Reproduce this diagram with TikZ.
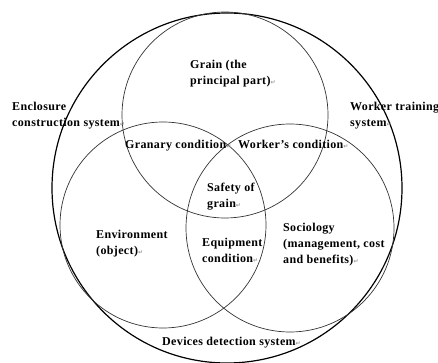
\documentclass[tikz,border=0pt]{standalone}
\usepackage{fontspec}
\setmainfont[LetterSpace=3]{Liberation Serif}
\newfontfamily\dejavu{DejaVu Sans}
\newcommand{\pmark}{{\color{black!40}\dejavu\fontsize{6}{6}\selectfont ↵}}
\tikzset{
  ring/.style={draw=black!80, line width=0.7pt},
  outerring/.style={draw=black, line width=1.2pt},
  lbl/.style={anchor=north west, inner sep=0pt, align=left,
    font=\bfseries\fontsize{12}{16}\selectfont}
}

\begin{document}
\begin{tikzpicture}[x=1pt,y=-1pt]
            \useasboundingbox (0,0) rectangle (438,363);
            % whole system
            \draw[outerring] (227,188) circle (175pt);
            % the three parts
            \draw[ring] (225,115) circle (103pt);
            \draw[ring] (163,225) circle (103pt);
            \draw[ring] (290,228) circle (104pt);
            % labels
            \node[lbl] (grain) at (190,59.5) {Grain (the\\principal part)\pmark};
            \node[lbl] (enclosure) at (12,101.5) {Enclosure\\construction system\pmark};
            \node[lbl] (training) at (350,101.5) {Worker training\\system\pmark};
            \node[lbl] (granary) at (125,139.5) {Granary condition\pmark};
            \node[lbl] (workercond) at (238,139.5) {Worker’s condition\pmark};
            \node[lbl] (safety) at (207,182.5) {Safety of\\grain\pmark};
            \node[lbl] (environment) at (96,229.5) {Environment\\(object)\pmark};
            \node[lbl] (equipment) at (202,237.5) {Equipment\\condition\pmark};
            \node[lbl] (sociology) at (283,222.5) {Sociology\\(management, cost\\and benefits)\pmark};
            \node[lbl] (devices) at (162,336.5) {Devices detection system\pmark};
          \end{tikzpicture}
\end{document}
